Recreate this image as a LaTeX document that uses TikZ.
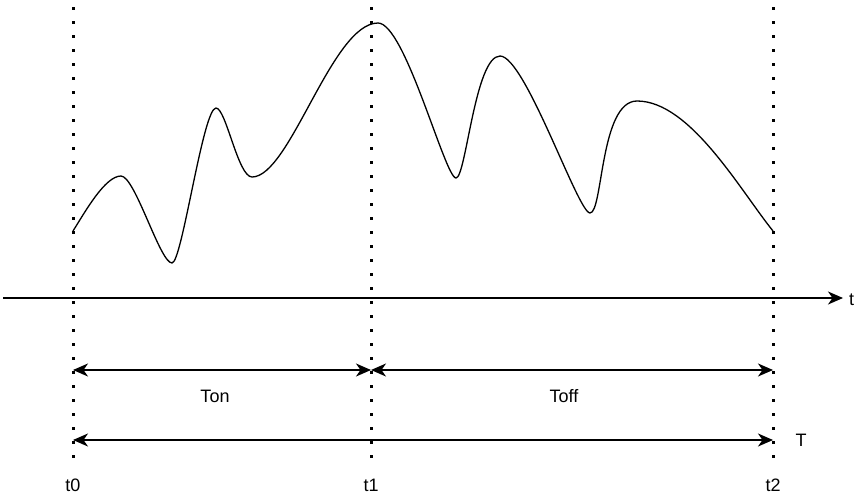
\documentclass[tikz,border=0pt]{standalone}
\usepackage{fontspec}
\setmainfont{Liberation Sans}
\usetikzlibrary{arrows.meta}

\tikzset{
  guide/.style={black, line width=3pt, dash pattern=on 3pt off 11pt},
  span/.style={black, line width=1.4pt, {Stealth[length=15pt,width=13pt,inset=4.5pt]}-{Stealth[length=15pt,width=13pt,inset=4.5pt]}},
  lbl/.style={inner sep=0pt, font=\fontsize{18}{21}\selectfont},
}

\begin{document}
\begin{tikzpicture}[x=1pt,y=1pt]
\useasboundingbox (0,0) rectangle (861,-498);
% dotted time marks
\coordinate (top0) at (73,-7);
\coordinate (bot0) at (73,-458);
\coordinate (top1) at (371,-7);
\coordinate (bot1) at (371,-458);
\coordinate (top2) at (773,-7);
\coordinate (bot2) at (773,-458);
\draw [guide] (top0) -- (bot0);
\draw [guide] (top1) -- (bot1);
\draw [guide] (top2) -- (bot2);
% signal
\draw [black, line width=1.3pt] (73,-231)
  .. controls (85,-212) and (105,-176) .. (121,-176)
  .. controls (135,-176) and (160,-263) .. (172,-263)
  .. controls (182,-263) and (203,-108) .. (216,-108)
  .. controls (226,-108) and (238,-177) .. (252,-177)
  .. controls (290,-177) and (332,-23) .. (378,-23)
  .. controls (405,-23) and (445,-178) .. (456,-178)
  .. controls (466,-178) and (475,-56) .. (500,-56)
  .. controls (525,-56) and (578,-213) .. (590,-213)
  .. controls (603,-213) and (600,-101) .. (637,-101)
  .. controls (690,-101) and (740,-190) .. (773,-231);
% time axis
\coordinate (axs) at (3,-298);
\coordinate (axe) at (843,-298);
\draw [black, line width=1.4pt, -{Stealth[length=15pt,width=13pt,inset=4.5pt]}] (axs) -- (axe);
\node [lbl, anchor=west] (tlab) at (849,-300) {t};
% spans
\coordinate (on0) at (73,-370);
\coordinate (on1) at (371,-370);
\coordinate (off1) at (773,-370);
\coordinate (per0) at (73,-440);
\coordinate (per1) at (773,-440);
\draw [span] (on0) -- (on1);
\draw [span] (on1) -- (off1);
\draw [span] (per0) -- (per1);
\node [lbl] (ton) at (215,-396) {Ton};
\node [lbl] (toff) at (564,-396) {Toff};
\node [lbl] (per) at (801,-440) {T};
\node [lbl] (t0) at (73,-485) {t0};
\node [lbl] (t1) at (371,-485) {t1};
\node [lbl] (t2) at (773,-485) {t2};
\end{tikzpicture}
\end{document}
